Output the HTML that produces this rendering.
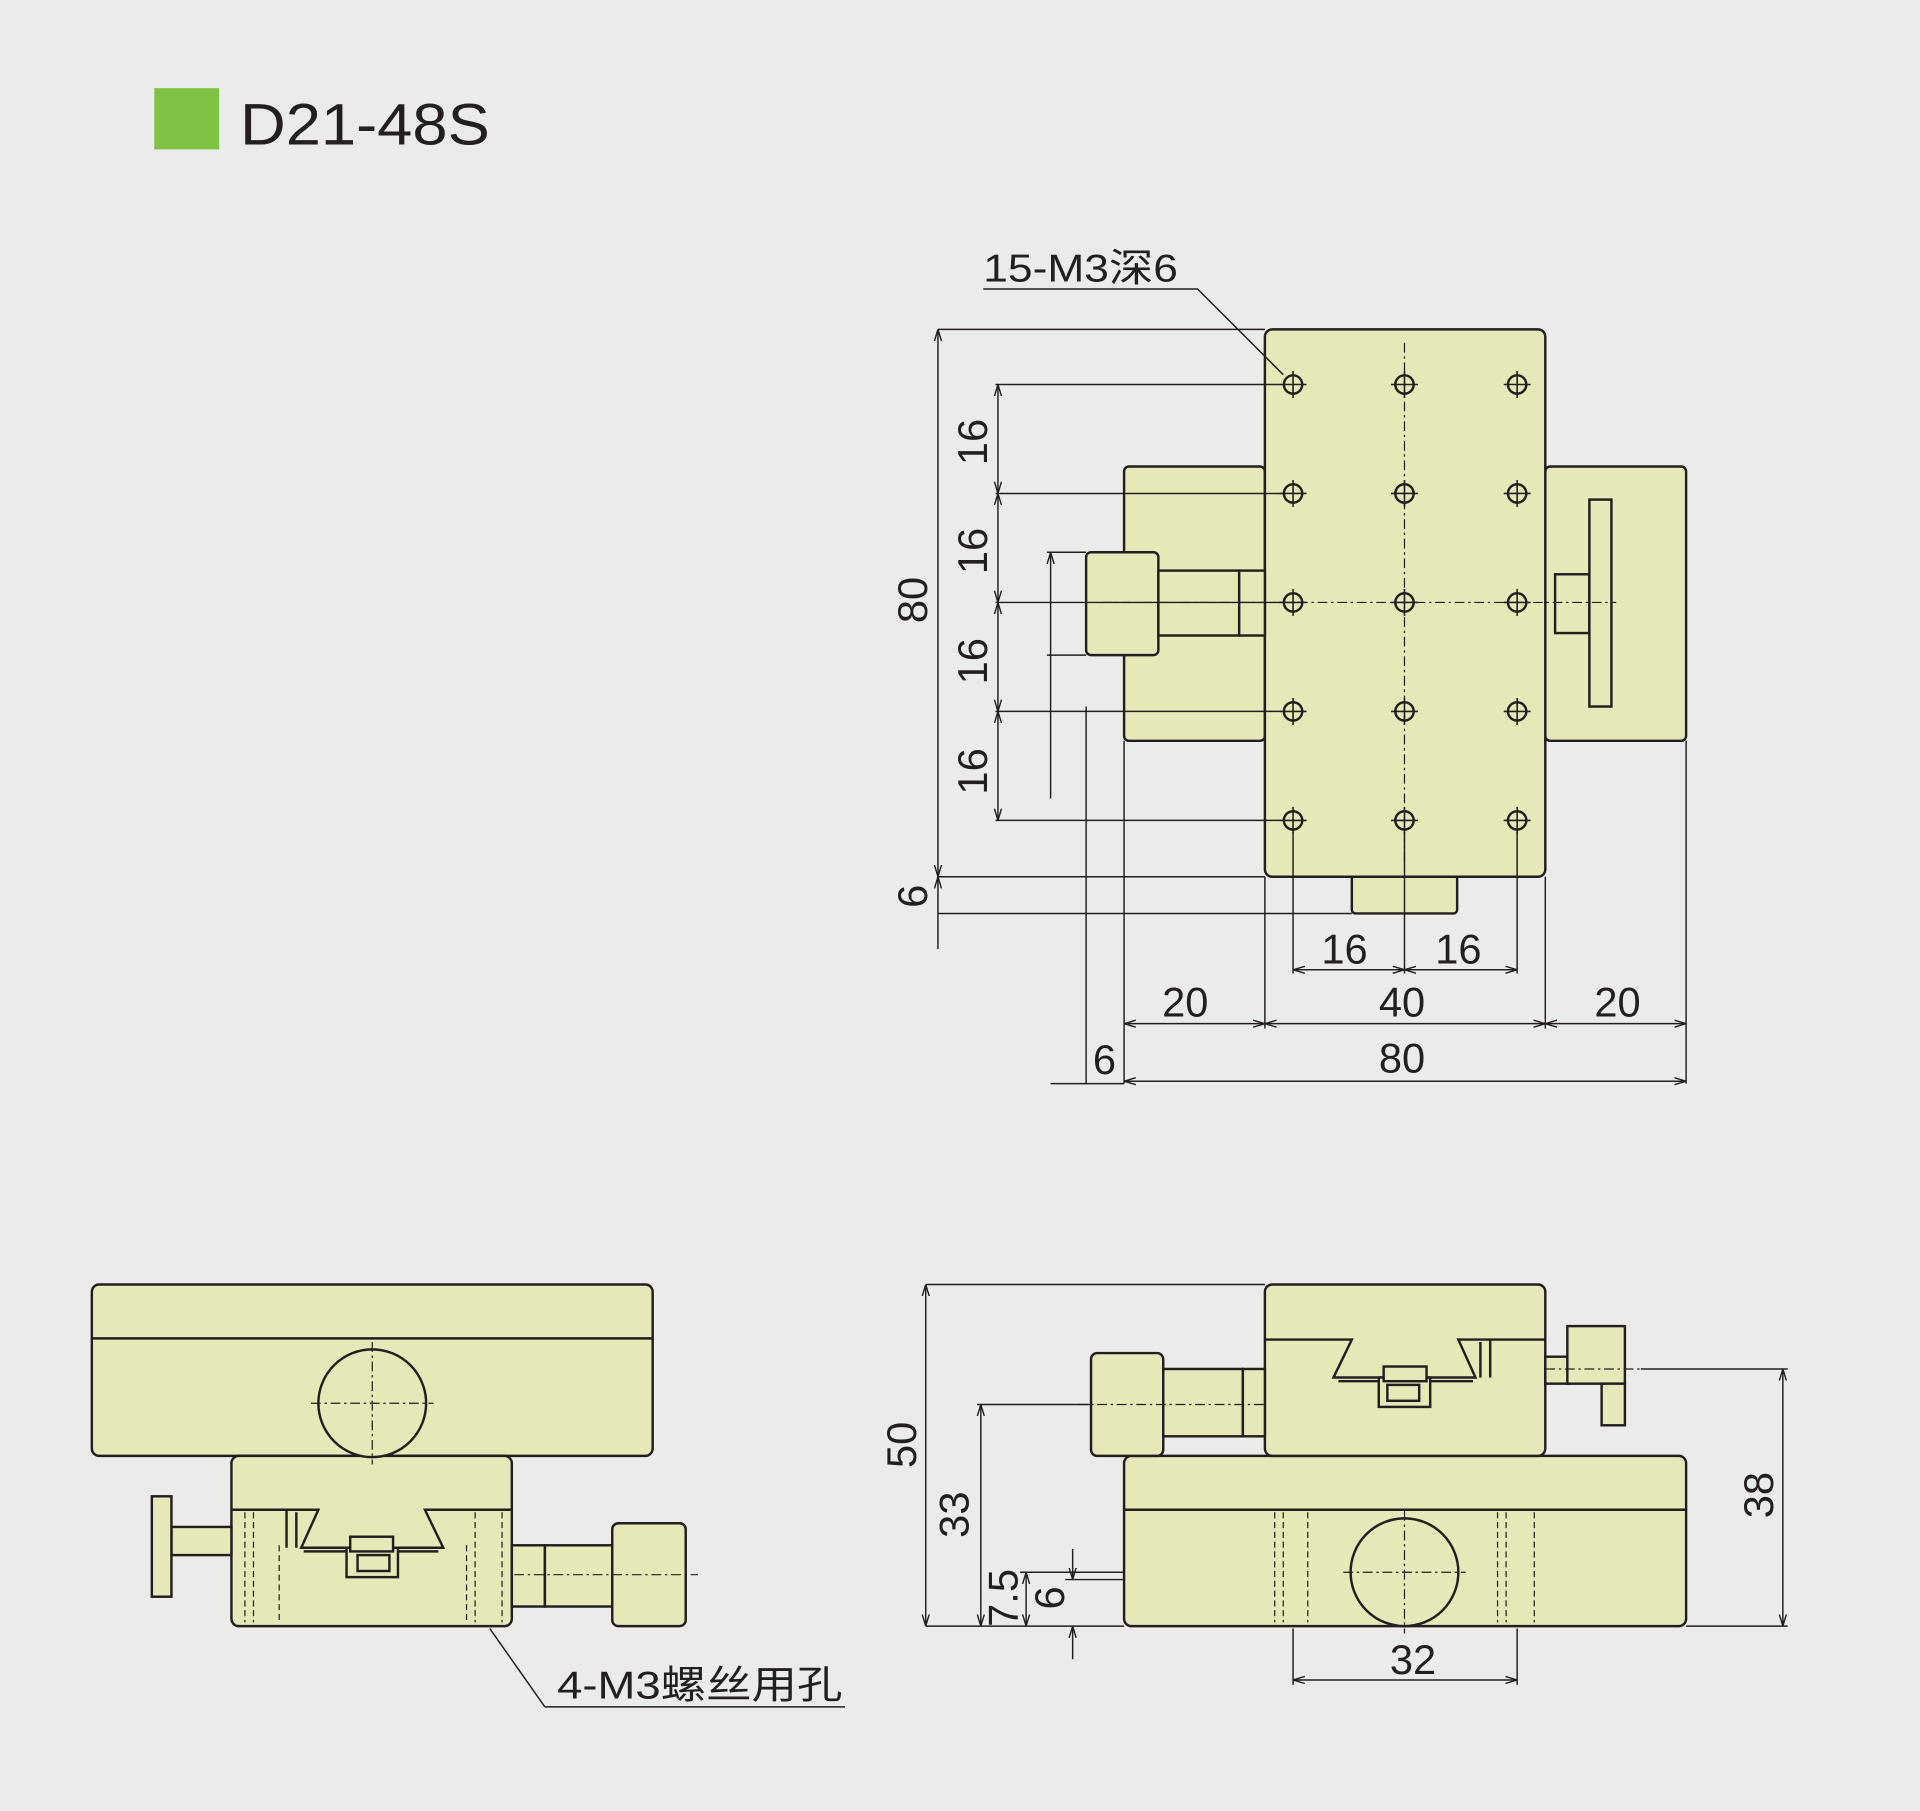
<!DOCTYPE html>
<html><head><meta charset="utf-8"><style>
html,body{margin:0;padding:0;background:#ebebe9;}
svg{display:block}
text{font-family:"Liberation Sans","Noto Sans CJK SC",sans-serif;fill:#231f20}
</style></head><body>
<svg width="1920" height="1811" viewBox="0 0 1568 1479" xmlns="http://www.w3.org/2000/svg">
<defs>
<marker id="a" viewBox="0 0 10 10" refX="10" refY="5" markerWidth="8" markerHeight="8" orient="auto-start-reverse"><path d="M0,2 L10,5 L0,8" fill="none" stroke="#231f20" stroke-width="1.2"/></marker>
<g id="h"><circle r="7.5" fill="none" stroke="#231f20" stroke-width="2"/><path d="M-11,0H11M0,-11V11" stroke="#231f20" stroke-width="1.3"/></g>
<g id="dv" stroke="#231f20" stroke-width="2" fill="none">
<path d="M1033,1094H1104L1089,1125H1205L1191,1094H1262"/>
<path d="M1093,1128H1203"/>
<path d="M1209,1096V1125M1217,1094V1125"/>
<rect x="1126" y="1125" width="42" height="24" fill="#e6e8b8"/>
<rect x="1130" y="1116" width="35" height="12" fill="#e6e8b8"/>
<rect x="1133" y="1131" width="26" height="13"/>
</g>
</defs>
<rect width="1568" height="1479" fill="#ebebe9"/>
<rect x="126" y="72" width="53" height="50" fill="#7dc242"/>
<text x="196" y="118" font-size="48" textLength="204" lengthAdjust="spacingAndGlyphs">D21-48S</text>

<g fill="#e6e8b8" stroke="#231f20" stroke-width="2">
<rect x="918" y="381" width="115" height="224" rx="4"/>
<rect x="1262" y="381" width="115" height="224" rx="4"/>
<rect x="1104" y="710" width="86" height="36" rx="3"/>
<rect x="1033" y="269" width="229" height="447" rx="6"/>
<rect x="887" y="451" width="59" height="84" rx="4"/>
<rect x="946" y="466" width="66" height="53"/>
<rect x="1012" y="466" width="21" height="53"/>
<rect x="1270" y="469" width="28" height="48"/>
<rect x="1298" y="408" width="18" height="169"/>
<rect x="75" y="1049" width="458" height="140" rx="6"/>
<rect x="189" y="1189" width="229" height="139" rx="6"/>
<rect x="140" y="1247" width="49" height="23"/>
<rect x="124" y="1222" width="16" height="82"/>
<rect x="418" y="1262" width="27" height="50"/>
<rect x="445" y="1262" width="55" height="50"/>
<rect x="500" y="1244" width="60" height="84" rx="5"/>
<rect x="918" y="1189" width="459" height="139" rx="6"/>
<rect x="1033" y="1049" width="229" height="140" rx="6"/>
<rect x="891" y="1105" width="59" height="84" rx="5"/>
<rect x="950" y="1118" width="65" height="55"/>
<rect x="1015" y="1118" width="18" height="55"/>
<rect x="1262" y="1108" width="20" height="22"/>
<rect x="1280" y="1083" width="47" height="47"/>
<rect x="1308" y="1130" width="19" height="34"/>
</g>

<g stroke="#231f20" stroke-width="2" fill="none">
<line x1="75" y1="1093" x2="533" y2="1093"/>
<circle cx="304" cy="1146" r="44" fill="#e6e8b8"/>
<line x1="918" y1="1233" x2="1377" y2="1233"/>
<circle cx="1147" cy="1284" r="44" fill="#e6e8b8"/>
</g>
<use href="#dv"/>
<use href="#dv" transform="translate(1451,139) scale(-1,1)"/>

<g stroke="#231f20" stroke-width="1" stroke-dasharray="8,3,2,3" fill="none">
<line x1="1147" y1="280" x2="1147" y2="705"/>
<line x1="900" y1="492" x2="1320" y2="492"/>
<line x1="304" y1="1096" x2="304" y2="1196"/><line x1="254" y1="1146" x2="354" y2="1146"/>
<line x1="420" y1="1286" x2="570" y2="1286"/>
<line x1="1147" y1="1234" x2="1147" y2="1334"/><line x1="1097" y1="1284" x2="1197" y2="1284"/>
<line x1="880" y1="1147" x2="1033" y2="1147"/>
<line x1="1262" y1="1118" x2="1340" y2="1118"/>
</g>
<g stroke="#231f20" stroke-width="1" stroke-dasharray="5,3" fill="none">
<path d="M200,1235V1325M207,1235V1325M228,1262V1325M381,1262V1325M388,1235V1325M410,1235V1325"/>
<path d="M1041,1235V1325M1048,1235V1325M1068,1235V1325M1223,1235V1325M1230,1235V1325M1253,1235V1325"/>
</g>

<g>
<use href="#h" x="1056" y="314"/><use href="#h" x="1147" y="314"/><use href="#h" x="1239" y="314"/>
<use href="#h" x="1056" y="403"/><use href="#h" x="1147" y="403"/><use href="#h" x="1239" y="403"/>
<use href="#h" x="1056" y="492"/><use href="#h" x="1147" y="492"/><use href="#h" x="1239" y="492"/>
<use href="#h" x="1056" y="581"/><use href="#h" x="1147" y="581"/><use href="#h" x="1239" y="581"/>
<use href="#h" x="1056" y="670"/><use href="#h" x="1147" y="670"/><use href="#h" x="1239" y="670"/>
</g>

<g stroke="#231f20" stroke-width="1.2" fill="none">
<path d="M766,269H1033M813,314H1046M813,403H1046M813,492H1046M813,581H1046M813,670H1046M766,716H1033M766,746H1104"/>
<path d="M855,451H887M855,535H887M887,577V885M918,605V885M1377,605V885M1033,716V840M1262,716V840M1056,680V795M1239,680V795M1147,680V795M858,885H918"/>
<path d="M803,236H978L1048,306"/>
<path d="M445,1394H690M445,1394L400,1330"/>
<path d="M756,1049H1033M756,1328H918M798,1147H891M833,1284H918M833,1328H918M870,1290H918M1377,1328H1460M1340,1118H1460M1056,1330V1376M1239,1330V1376"/>
</g>
<g stroke="#231f20" stroke-width="1.2" fill="none" marker-start="url(#a)" marker-end="url(#a)">
<line x1="815" y1="314" x2="815" y2="403"/><line x1="815" y1="403" x2="815" y2="492"/>
<line x1="815" y1="492" x2="815" y2="581"/><line x1="815" y1="581" x2="815" y2="670"/>
<line x1="766" y1="269" x2="766" y2="716"/>
<line x1="858" y1="451" x2="858" y2="652" marker-end="none"/>
<line x1="1056" y1="792" x2="1147" y2="792"/><line x1="1147" y1="792" x2="1239" y2="792"/>
<line x1="918" y1="836" x2="1033" y2="836"/><line x1="1033" y1="836" x2="1262" y2="836"/><line x1="1262" y1="836" x2="1377" y2="836"/>
<line x1="918" y1="883" x2="1377" y2="883"/>
<line x1="756" y1="1049" x2="756" y2="1328"/>
<line x1="801" y1="1147" x2="801" y2="1328"/>
<line x1="1456" y1="1118" x2="1456" y2="1328"/>
<line x1="838" y1="1284" x2="838" y2="1328"/>
<line x1="1056" y1="1372" x2="1239" y2="1372"/>
</g>
<g stroke="#231f20" stroke-width="1.2" fill="none">
<line x1="766" y1="716" x2="766" y2="775" marker-start="url(#a)"/>
<line x1="876" y1="1265" x2="876" y2="1290" marker-end="url(#a)"/>
<line x1="876" y1="1355" x2="876" y2="1328" marker-end="url(#a)"/>
</g>

<g font-size="34">
<text x="803" y="230" font-size="32" textLength="159" lengthAdjust="spacingAndGlyphs">15-M3深6</text>
<g text-anchor="middle">
<text transform="translate(806,361) rotate(-90)">16</text>
<text transform="translate(806,450) rotate(-90)">16</text>
<text transform="translate(806,540) rotate(-90)">16</text>
<text transform="translate(806,630) rotate(-90)">16</text>
<text transform="translate(757,490) rotate(-90)">80</text>
<text transform="translate(757,732) rotate(-90)">6</text>
<text x="1098" y="787">16</text><text x="1191" y="787">16</text>
<text x="968" y="830">20</text><text x="1145" y="830">40</text><text x="1321" y="830">20</text>
<text x="1145" y="876">80</text><text x="902" y="877">6</text>
<text transform="translate(748,1180) rotate(-90)">50</text>
<text transform="translate(791,1237) rotate(-90)">33</text>
<text transform="translate(1448,1221) rotate(-90)">38</text>
<text transform="translate(831,1305) rotate(-90)">7.5</text>
<text transform="translate(869,1305) rotate(-90)">6</text>
<text x="1154" y="1367">32</text>
</g>
<text x="455" y="1387" font-size="32" textLength="233" lengthAdjust="spacingAndGlyphs">4-M3螺丝用孔</text>
</g>
</svg>
</body></html>
